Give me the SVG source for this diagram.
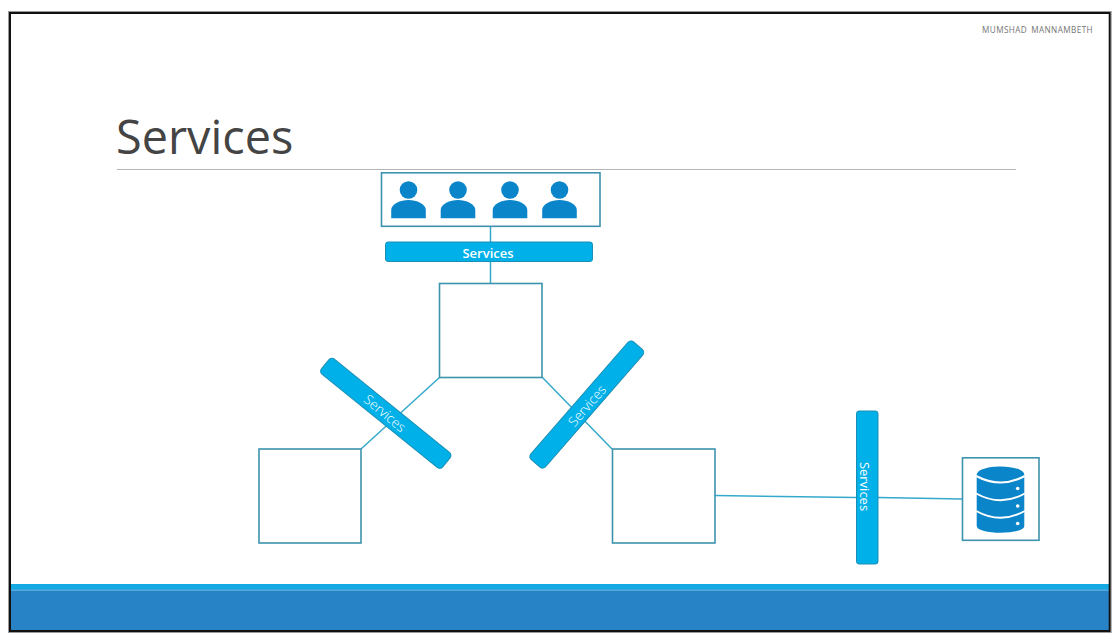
<svg xmlns="http://www.w3.org/2000/svg" width="1120" height="644" viewBox="0 0 1120 644">
<defs>
<g id="person"><circle cx="0" cy="-23" r="8.8" fill="#0a85c9"/><path d="M-17.300 5.300V-3C-17.300 -9 -8 -13 0 -13S17.300 -9 17.300 -3V5.300Z" fill="#0a85c9"/></g>
</defs>
<style>
.box{fill:#fff;stroke:#3c93ad;stroke-width:1.6}
.bar{fill:#00b0e8;stroke:#1a8fb5;stroke-width:1}
.lbl{font-family:"Open Sans","Liberation Sans",sans-serif;font-size:13px;fill:#fff;text-anchor:middle;dominant-baseline:central}
.conn line{stroke:#35a9cb;stroke-width:1.5}
.wave{fill:none;stroke:#fff;stroke-width:2}
</style>
<rect width="1120" height="644" fill="#fff"/>
<rect x="10" y="585" width="1099" height="45" fill="#2783c6"/>
<rect x="10" y="584" width="1099" height="6" fill="#15aae3"/>
<rect x="10" y="589.500" width="1099" height="1.500" fill="#57a8dc"/>
<rect x="8.500" y="11.500" width="1102.700" height="621" fill="none" stroke="#999" stroke-width="1"/>
<rect x="10" y="13" width="1099.700" height="618" fill="none" stroke="#111" stroke-width="2"/>
<text x="1093" y="33" text-anchor="end" font-family="'Open Sans','Liberation Sans',sans-serif" font-size="8.200" letter-spacing="0.400" word-spacing="1.500" fill="#757575">MUMSHAD MANNAMBETH</text>
<text x="116" y="154" font-family="'Open Sans','Liberation Sans',sans-serif" font-size="46.800" fill="#444">Services</text>
<line x1="117" y1="169.500" x2="1016" y2="169.500" stroke="#b5b5b5" stroke-width="1.200"/>
<g id="connectors" class="conn">
<line x1="490.500" y1="226" x2="490.500" y2="242"/>
<line x1="490.500" y1="262" x2="490.500" y2="283"/>
<line x1="440" y1="377" x2="361" y2="449"/>
<line x1="542" y1="377" x2="612" y2="449"/>
<line x1="715" y1="495.500" x2="856" y2="497.500"/>
<line x1="878" y1="497.500" x2="962" y2="499"/>
</g>
<g id="users">
<rect class="box" x="381.500" y="172.800" width="218.500" height="53.500"/>
<use href="#person" x="408.500" y="213"/>
<use href="#person" x="458" y="213"/>
<use href="#person" x="510" y="213"/>
<use href="#person" x="559.500" y="213"/>
</g>
<g id="service-top">
<rect class="bar" x="385.500" y="242" width="207" height="19.500" rx="2.500"/>
<text class="lbl" x="488" y="252.500" font-weight="600">Services</text>
</g>
<g id="pod-top"><rect class="box" x="439.500" y="283.500" width="102.500" height="94"/></g>
<g id="pod-left"><rect class="box" x="259" y="449" width="102" height="94"/></g>
<g id="pod-right"><rect class="box" x="612.500" y="449" width="102.500" height="94"/></g>
<g id="service-left">
<rect class="bar" x="-78" y="-9.750" width="156" height="19.500" rx="4" transform="translate(385.800 413.300) rotate(39)"/>
<text class="lbl" transform="translate(385 413) rotate(40)" style="font-weight:300;font-size:13.500px">Services</text>
</g>
<g id="service-right">
<rect class="bar" x="-78" y="-9.750" width="156" height="19.500" rx="4" transform="translate(586.800 404.500) rotate(-49)"/>
<text class="lbl" transform="translate(587 405.500) rotate(-49)" style="font-weight:300;font-size:13.500px">Services</text>
</g>
<g id="service-db">
<rect class="bar" x="856.500" y="411" width="21.500" height="153" rx="2.500"/>
<text class="lbl" transform="translate(865 486.500) rotate(90)">Services</text>
</g>
<g id="database">
<rect class="box" x="962.500" y="457.800" width="76.500" height="82.500"/>
<path d="M976.700 475C976.700 463.500 1024.300 463.500 1024.300 475V526C1024.300 535 976.700 535 976.700 526Z" fill="#0a85c9"/>
<path class="wave" d="M976.200 476Q1000.500 489 1024.800 476"/>
<path class="wave" d="M976.200 493.500Q1000.500 507 1024.800 493.500"/>
<path class="wave" d="M976.200 511Q1000.500 524.500 1024.800 511"/>
<circle cx="1017.700" cy="488.500" r="1.800" fill="#fff"/>
<circle cx="1017.700" cy="506" r="1.800" fill="#fff"/>
<circle cx="1017.700" cy="523.500" r="1.800" fill="#fff"/>
</g>
</svg>
